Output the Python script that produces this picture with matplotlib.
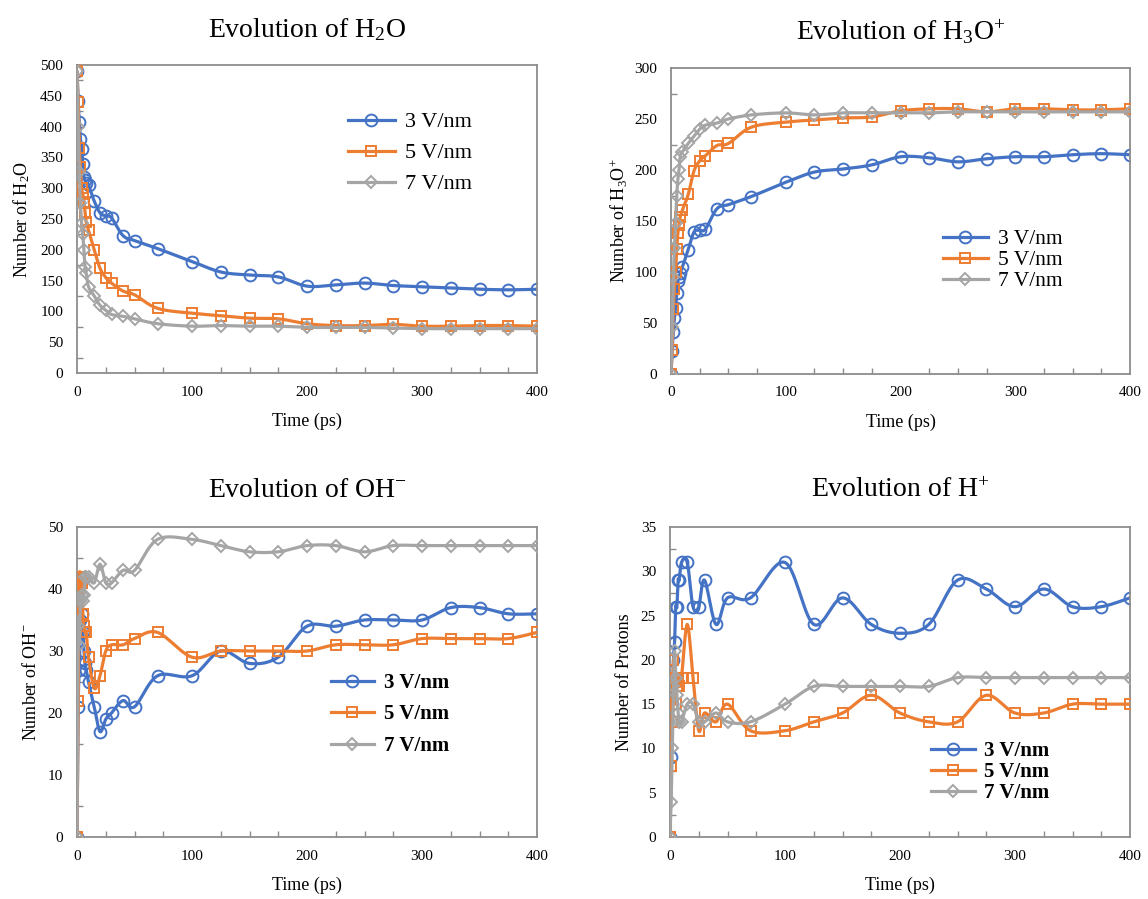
import numpy as np
import matplotlib
matplotlib.use('Agg')
import matplotlib.pyplot as plt
from matplotlib.lines import Line2D
from matplotlib.ticker import MultipleLocator

# Temps de simulation (ps)
time_ps = [0, 1, 2, 3, 4, 5, 6, 7, 8, 10, 15, 20, 25, 30, 40, 50, 70,
           100, 125, 150, 175, 200, 225, 250, 275, 300, 325, 350, 375, 400]

field_labels = ['3 V/nm', '5 V/nm', '7 V/nm']

# Nombre de H2O
h2o_3 = [490, 441, 407, 380, 364, 340, 318, 313, 308, 305, 279, 260, 255, 252, 223, 215, 202,
         181, 164, 159, 156, 141, 143, 146, 142, 140, 138, 136, 135, 136]
h2o_5 = [490, 440, 366, 334, 300, 291, 278, 259, 245, 232, 200, 170, 155, 146, 133, 127, 105,
         97, 93, 89, 88, 80, 77, 77, 79, 76, 76, 77, 77, 76]
h2o_7 = [490, 400, 326, 276, 243, 225, 200, 172, 162, 140, 125, 110, 102, 95, 92, 88, 80,
         76, 77, 76, 76, 74, 74, 74, 73, 72, 72, 72, 72, 72]

# Nombre de H3O+
h3o_3 = [0, 23, 41, 55, 65, 79, 91, 95, 99, 105, 122, 139, 141, 142, 162, 166, 174,
         188, 198, 201, 205, 213, 212, 208, 211, 213, 213, 215, 216, 215]
h3o_5 = [0, 24, 64, 83, 100, 123, 138, 146, 154, 161, 176, 199, 209, 214, 224, 226, 242,
         247, 249, 251, 252, 258, 260, 260, 257, 260, 260, 259, 259, 260]
h3o_7 = [0, 46, 95, 124, 148, 175, 191, 200, 213, 218, 226, 233, 240, 244, 246, 250, 254,
         256, 254, 256, 256, 256, 256, 257, 257, 257, 257, 257, 257, 257]

# Nombre de OH-
oh_3 = [0, 21, 27, 35, 36, 33, 30, 28, 27, 25, 21, 17, 19, 20, 22, 21, 26,
        26, 30, 28, 29, 34, 34, 35, 35, 35, 37, 37, 36, 36]
oh_5 = [0, 22, 41, 42, 41, 36, 34, 33, 33, 29, 24, 26, 30, 31, 31, 32, 33,
        29, 30, 30, 30, 30, 31, 31, 31, 32, 32, 32, 32, 33]
oh_7 = [0, 34, 31, 38, 39, 38, 39, 42, 42, 42, 41, 44, 41, 41, 43, 43, 48,
        48, 47, 46, 46, 47, 47, 46, 47, 47, 47, 47, 47, 47]

# Nombre de protons H+
hp_3 = [0, 9, 15, 20, 22, 26, 26, 29, 29, 31, 31, 26, 26, 29, 24, 27, 27,
        31, 24, 27, 24, 23, 24, 29, 28, 26, 28, 26, 26, 27]
hp_5 = [0, 8, 13, 20, 18, 15, 17, 18, 17, 18, 24, 18, 12, 14, 13, 15, 12,
        12, 13, 14, 16, 14, 13, 13, 16, 14, 14, 15, 15, 15]
hp_7 = [0, 4, 10, 17, 21, 18, 16, 14, 13, 13, 15, 15, 13, 13, 14, 13, 13,
        15, 17, 17, 17, 17, 17, 18, 18, 18, 18, 18, 18, 18]

plt.rcParams['font.family'] = ['Liberation Serif', 'DejaVu Serif']
plt.rcParams['mathtext.fontset'] = 'custom'
plt.rcParams['mathtext.rm'] = 'Liberation Serif'
plt.rcParams['mathtext.it'] = 'Liberation Serif:italic'
plt.rcParams['mathtext.bf'] = 'Liberation Serif:bold'

colors = ['#4472C4', '#ED7D31', '#A5A5A5']
markers = ['o', 's', 'D']
msizes = [8.5, 7, 6]
spine_col = '#8C8C8C'


def smooth_curve(x, y, n=16):
    """Courbe lissee type Excel (Bezier / Catmull-Rom)"""
    x = np.asarray(x, float)
    y = np.asarray(y, float)
    px = np.r_[x[0], x, x[-1]]
    py = np.r_[y[0], y, y[-1]]
    s = np.linspace(0, 1, n)
    xs, ys = [], []
    for i in range(len(x) - 1):
        p0 = np.array([px[i], py[i]])
        p1 = np.array([px[i + 1], py[i + 1]])
        p2 = np.array([px[i + 2], py[i + 2]])
        p3 = np.array([px[i + 3], py[i + 3]])
        c1 = p1 + (p2 - p0) / 6
        c2 = p2 - (p3 - p1) / 6
        b = ((1 - s) ** 3)[:, None] * p1 + (3 * (1 - s) ** 2 * s)[:, None] * c1 \
            + (3 * (1 - s) * s ** 2)[:, None] * c2 + (s ** 3)[:, None] * p2
        xs.append(b[:, 0])
        ys.append(b[:, 1])
    return np.concatenate(xs), np.concatenate(ys)


def draw_panel(ax, series, title, ylabel, ymax, ymajor, legend_pos, legend_spacing,
               title_pad=20, ylabel_pad=6, legend_weight='normal', legend_size=15.5):
    for k, vals in enumerate(series):
        sx, sy = smooth_curve(time_ps, vals)
        ax.plot(sx, sy, color=colors[k], lw=2.3, zorder=2 + k, solid_capstyle='round')
        ax.plot(time_ps, vals, ls='none', marker=markers[k], ms=msizes[k], mfc='none',
                mec=colors[k], mew=1.4, zorder=2 + k)
    ax.set_xlim(0, 400)
    ax.set_ylim(0, ymax)
    ax.xaxis.set_major_locator(MultipleLocator(100))
    ax.xaxis.set_minor_locator(MultipleLocator(25))
    ax.yaxis.set_major_locator(MultipleLocator(ymajor))
    ax.yaxis.set_minor_locator(MultipleLocator(ymajor / 2))
    for sp in ax.spines.values():
        sp.set_color(spine_col)
        sp.set_linewidth(1.3)
    ax.tick_params(which='both', direction='in', color=spine_col, labelsize=11,
                   top=False, right=False)
    ax.tick_params(which='major', length=0)
    ax.tick_params(axis='x', which='major', pad=9)
    ax.tick_params(axis='y', which='major', pad=10)
    ax.tick_params(which='minor', length=4, width=1)
    ax.set_title(title, fontsize=20, pad=title_pad)
    ax.set_xlabel('Time (ps)', fontsize=13, labelpad=10)
    ax.set_ylabel(ylabel, fontsize=13, labelpad=ylabel_pad)
    handles = [Line2D([], [], color=colors[k], lw=2.3, marker=markers[k], ms=msizes[k],
                      mfc='none', mec=colors[k], mew=1.4) for k in range(3)]
    ax.legend(handles, field_labels, loc='upper left', bbox_to_anchor=legend_pos,
              frameon=False, prop={'size': legend_size, 'weight': legend_weight},
              handlelength=2.1, handletextpad=0.45,
              labelspacing=legend_spacing, borderaxespad=0)


fig = plt.figure(figsize=(11.48, 8.99), dpi=100)
W, H = 1148, 899

ax1 = fig.add_axes([77 / W, 1 - 373 / H, 460 / W, 308 / H])
ax2 = fig.add_axes([671 / W, 1 - 374 / H, 459 / W, 306 / H])
ax3 = fig.add_axes([77 / W, 1 - 837 / H, 460 / W, 310 / H])
ax4 = fig.add_axes([670 / W, 1 - 837 / H, 460 / W, 310 / H])

draw_panel(ax1, [h2o_3, h2o_5, h2o_7], r'Evolution of H$_\mathrm{2}$O',
           r'Number of H$_\mathrm{2}$O', 500, 50, (0.57, 0.877), 0.47, legend_size=16)
draw_panel(ax2, [h3o_3, h3o_5, h3o_7], r'Evolution of H$_\mathrm{3}$O$^\mathrm{+}$',
           r'Number of H$_\mathrm{3}$O$^\mathrm{+}$', 300, 50, (0.573, 0.502), 0.05,
           ylabel_pad=3)
draw_panel(ax3, [oh_3, oh_5, oh_7], r'Evolution of OH$^{-}$',
           r'Number of OH$^\mathrm{-}$', 50, 10, (0.533, 0.556), 0.55,
           title_pad=21.5, legend_weight='bold', legend_size=15)
draw_panel(ax4, [hp_3, hp_5, hp_7], r'Evolution of H$^\mathrm{+}$',
           'Number of Protons', 35, 5, (0.55, 0.337), 0.05,
           title_pad=21.5, legend_weight='bold', legend_size=15)

fig.savefig('out.png', dpi=100)
